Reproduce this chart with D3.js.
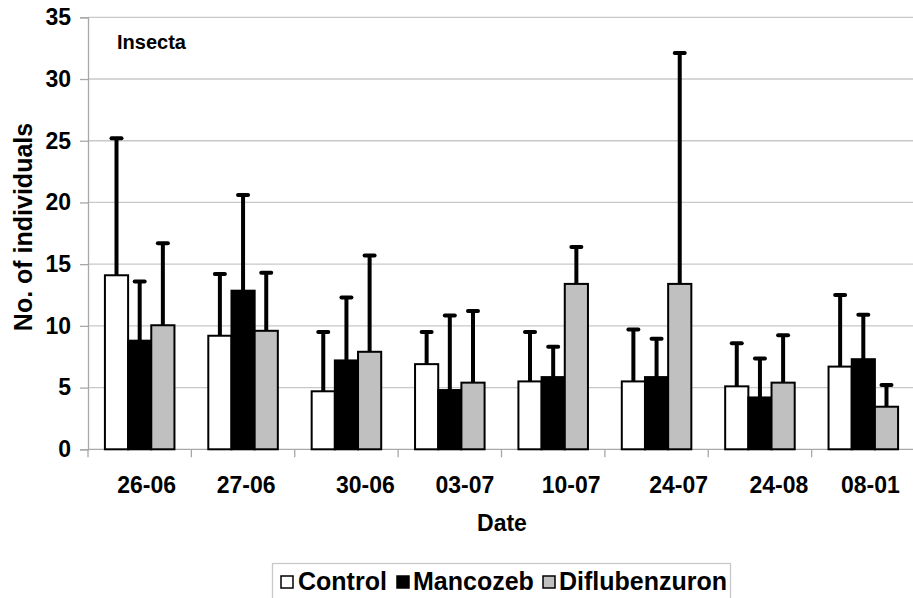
<!DOCTYPE html>
<html>
<head>
<meta charset="utf-8">
<script src="https://cdn.jsdelivr.net/npm/d3@7"></script>
<style>
  html, body { margin: 0; padding: 0; background: #fff; }
  svg { display: block; font-family: "Liberation Sans", Arial, sans-serif; font-weight: bold; }
</style>
</head>
<body>
<svg id="chart" width="913" height="598"></svg>
<script>
// ---- data ----
const categories = ["26-06", "27-06", "30-06", "03-07", "10-07", "24-07", "24-08", "08-01"];
const seriesNames = ["Control", "Mancozeb", "Diflubenzuron"];
const controlMean = [14.1, 9.2, 4.7, 6.9, 5.5, 5.5, 5.1, 6.7];
const controlUpper = [25.2, 14.2, 9.5, 9.5, 9.5, 9.7, 8.6, 12.5];
const mancozebMean = [8.8, 12.85, 7.2, 4.8, 5.85, 5.85, 4.2, 7.3];
const mancozebUpper = [13.6, 20.6, 12.3, 10.85, 8.3, 8.95, 7.35, 10.9];
const diflubenzuronMean = [10.05, 9.6, 7.9, 5.4, 13.4, 13.4, 5.4, 3.45];
const diflubenzuronUpper = [16.7, 14.3, 15.7, 11.2, 16.4, 32.1, 9.25, 5.2];
const yTicks = [0, 5, 10, 15, 20, 25, 30, 35];

const means = [controlMean, mancozebMean, diflubenzuronMean];
const uppers = [controlUpper, mancozebUpper, diflubenzuronUpper];
const fills = ["#ffffff", "#000000", "#c0c0c0"];

// ---- layout ----
const plot = { left: 88, right: 915, top: 17.3, bottom: 449.3 };
const labelNudge = [7, 3, 19, 15, 18, 22, 19, 7];

const svg = d3.select("#chart");

const x = d3.scaleBand().domain(categories).range([plot.left, plot.right]).padding(0);
const x1 = d3.scaleBand().domain(seriesNames).range([0, x.bandwidth()]).paddingInner(0).paddingOuter(0.73);
const y = d3.scaleLinear().domain([0, 35]).range([plot.bottom, plot.top]);

// gridlines
svg.append("g").selectAll("line").data(yTicks.filter(d => d > 0)).join("line")
  .attr("x1", plot.left).attr("x2", plot.right)
  .attr("y1", d => y(d)).attr("y2", d => y(d))
  .attr("stroke", "#c8c8c8").attr("stroke-width", 1.3);

// y axis
const yAxis = svg.append("g").attr("transform", `translate(${plot.left},0)`)
  .call(d3.axisLeft(y).tickValues(yTicks).tickSize(8).tickPadding(9).tickFormat(d3.format("d")));
yAxis.select(".domain").attr("stroke", "#a8a8a8").attr("stroke-width", 1.3);
yAxis.selectAll(".tick line").attr("stroke", "#a8a8a8").attr("stroke-width", 1.3);
yAxis.selectAll(".tick text").attr("font-size", 23).attr("font-weight", "bold")
  .attr("fill", "#000").attr("font-family", "'Liberation Sans', Arial, sans-serif");

// x axis baseline and ticks at band boundaries
svg.append("line").attr("x1", plot.left).attr("x2", plot.right)
  .attr("y1", y(0)).attr("y2", y(0)).attr("stroke", "#a8a8a8").attr("stroke-width", 1.3);
svg.append("g").selectAll("line").data(categories).join("line")
  .attr("x1", d => x(d)).attr("x2", d => x(d))
  .attr("y1", y(0)).attr("y2", y(0) + 8)
  .attr("stroke", "#a8a8a8").attr("stroke-width", 1.3);

// category labels
svg.append("g").selectAll("text").data(categories).join("text")
  .attr("x", (d, i) => x(d) + x.bandwidth() / 2 + labelNudge[i])
  .attr("y", 493)
  .attr("text-anchor", "middle")
  .attr("font-size", 23)
  .text(d => d);

// bars
const groups = svg.append("g").selectAll("g").data(categories).join("g")
  .attr("transform", d => `translate(${x(d)},0)`);
groups.selectAll("rect").data((d, i) => seriesNames.map((s, k) => ({ s, k, v: means[k][i] }))).join("rect")
  .attr("x", d => x1(d.s))
  .attr("width", x1.bandwidth())
  .attr("y", d => y(d.v))
  .attr("height", d => y(0) - y(d.v))
  .attr("fill", d => fills[d.k])
  .attr("stroke", "#000").attr("stroke-width", 2);

// error bars (upper only)
const eb = groups.selectAll("g.err").data((d, i) => seriesNames.map((s, k) => ({ s, k, v: means[k][i], u: uppers[k][i] }))).join("g")
  .attr("class", "err");
eb.append("line")
  .attr("x1", d => x1(d.s) + x1.bandwidth() / 2).attr("x2", d => x1(d.s) + x1.bandwidth() / 2)
  .attr("y1", d => y(d.v)).attr("y2", d => y(d.u))
  .attr("stroke", "#000").attr("stroke-width", 4);
eb.append("line")
  .attr("x1", d => x1(d.s) + x1.bandwidth() / 2 - 5).attr("x2", d => x1(d.s) + x1.bandwidth() / 2 + 5)
  .attr("y1", d => y(d.u)).attr("y2", d => y(d.u))
  .attr("stroke", "#000").attr("stroke-width", 4).attr("stroke-linecap", "round");

// panel label
svg.append("text").attr("x", 117).attr("y", 49).attr("font-size", 20).text("Insecta");

// axis titles
svg.append("text").attr("x", 502).attr("y", 531).attr("text-anchor", "middle").attr("font-size", 23).text("Date");
svg.append("text").attr("transform", "translate(32,227) rotate(-90)").attr("text-anchor", "middle")
  .attr("font-size", 25).text("No. of individuals");

// legend
const legend = svg.append("g");
legend.append("rect").attr("x", 272.5).attr("y", 563.5).attr("width", 458).attr("height", 40)
  .attr("fill", "#fff").attr("stroke", "#c8c8c8").attr("stroke-width", 1.3);
const legendItems = [
  { name: seriesNames[0], sx: 281, tx: 298 },
  { name: seriesNames[1], sx: 397, tx: 413 },
  { name: seriesNames[2], sx: 543, tx: 559 }
];
legendItems.forEach((d, k) => {
  legend.append("rect").attr("x", d.sx).attr("y", 576).attr("width", 12).attr("height", 12)
    .attr("fill", fills[k]).attr("stroke", "#000").attr("stroke-width", 1.5);
  legend.append("text").attr("x", d.tx).attr("y", 590).attr("font-size", 25).text(d.name);
});
</script>
</body>
</html>
